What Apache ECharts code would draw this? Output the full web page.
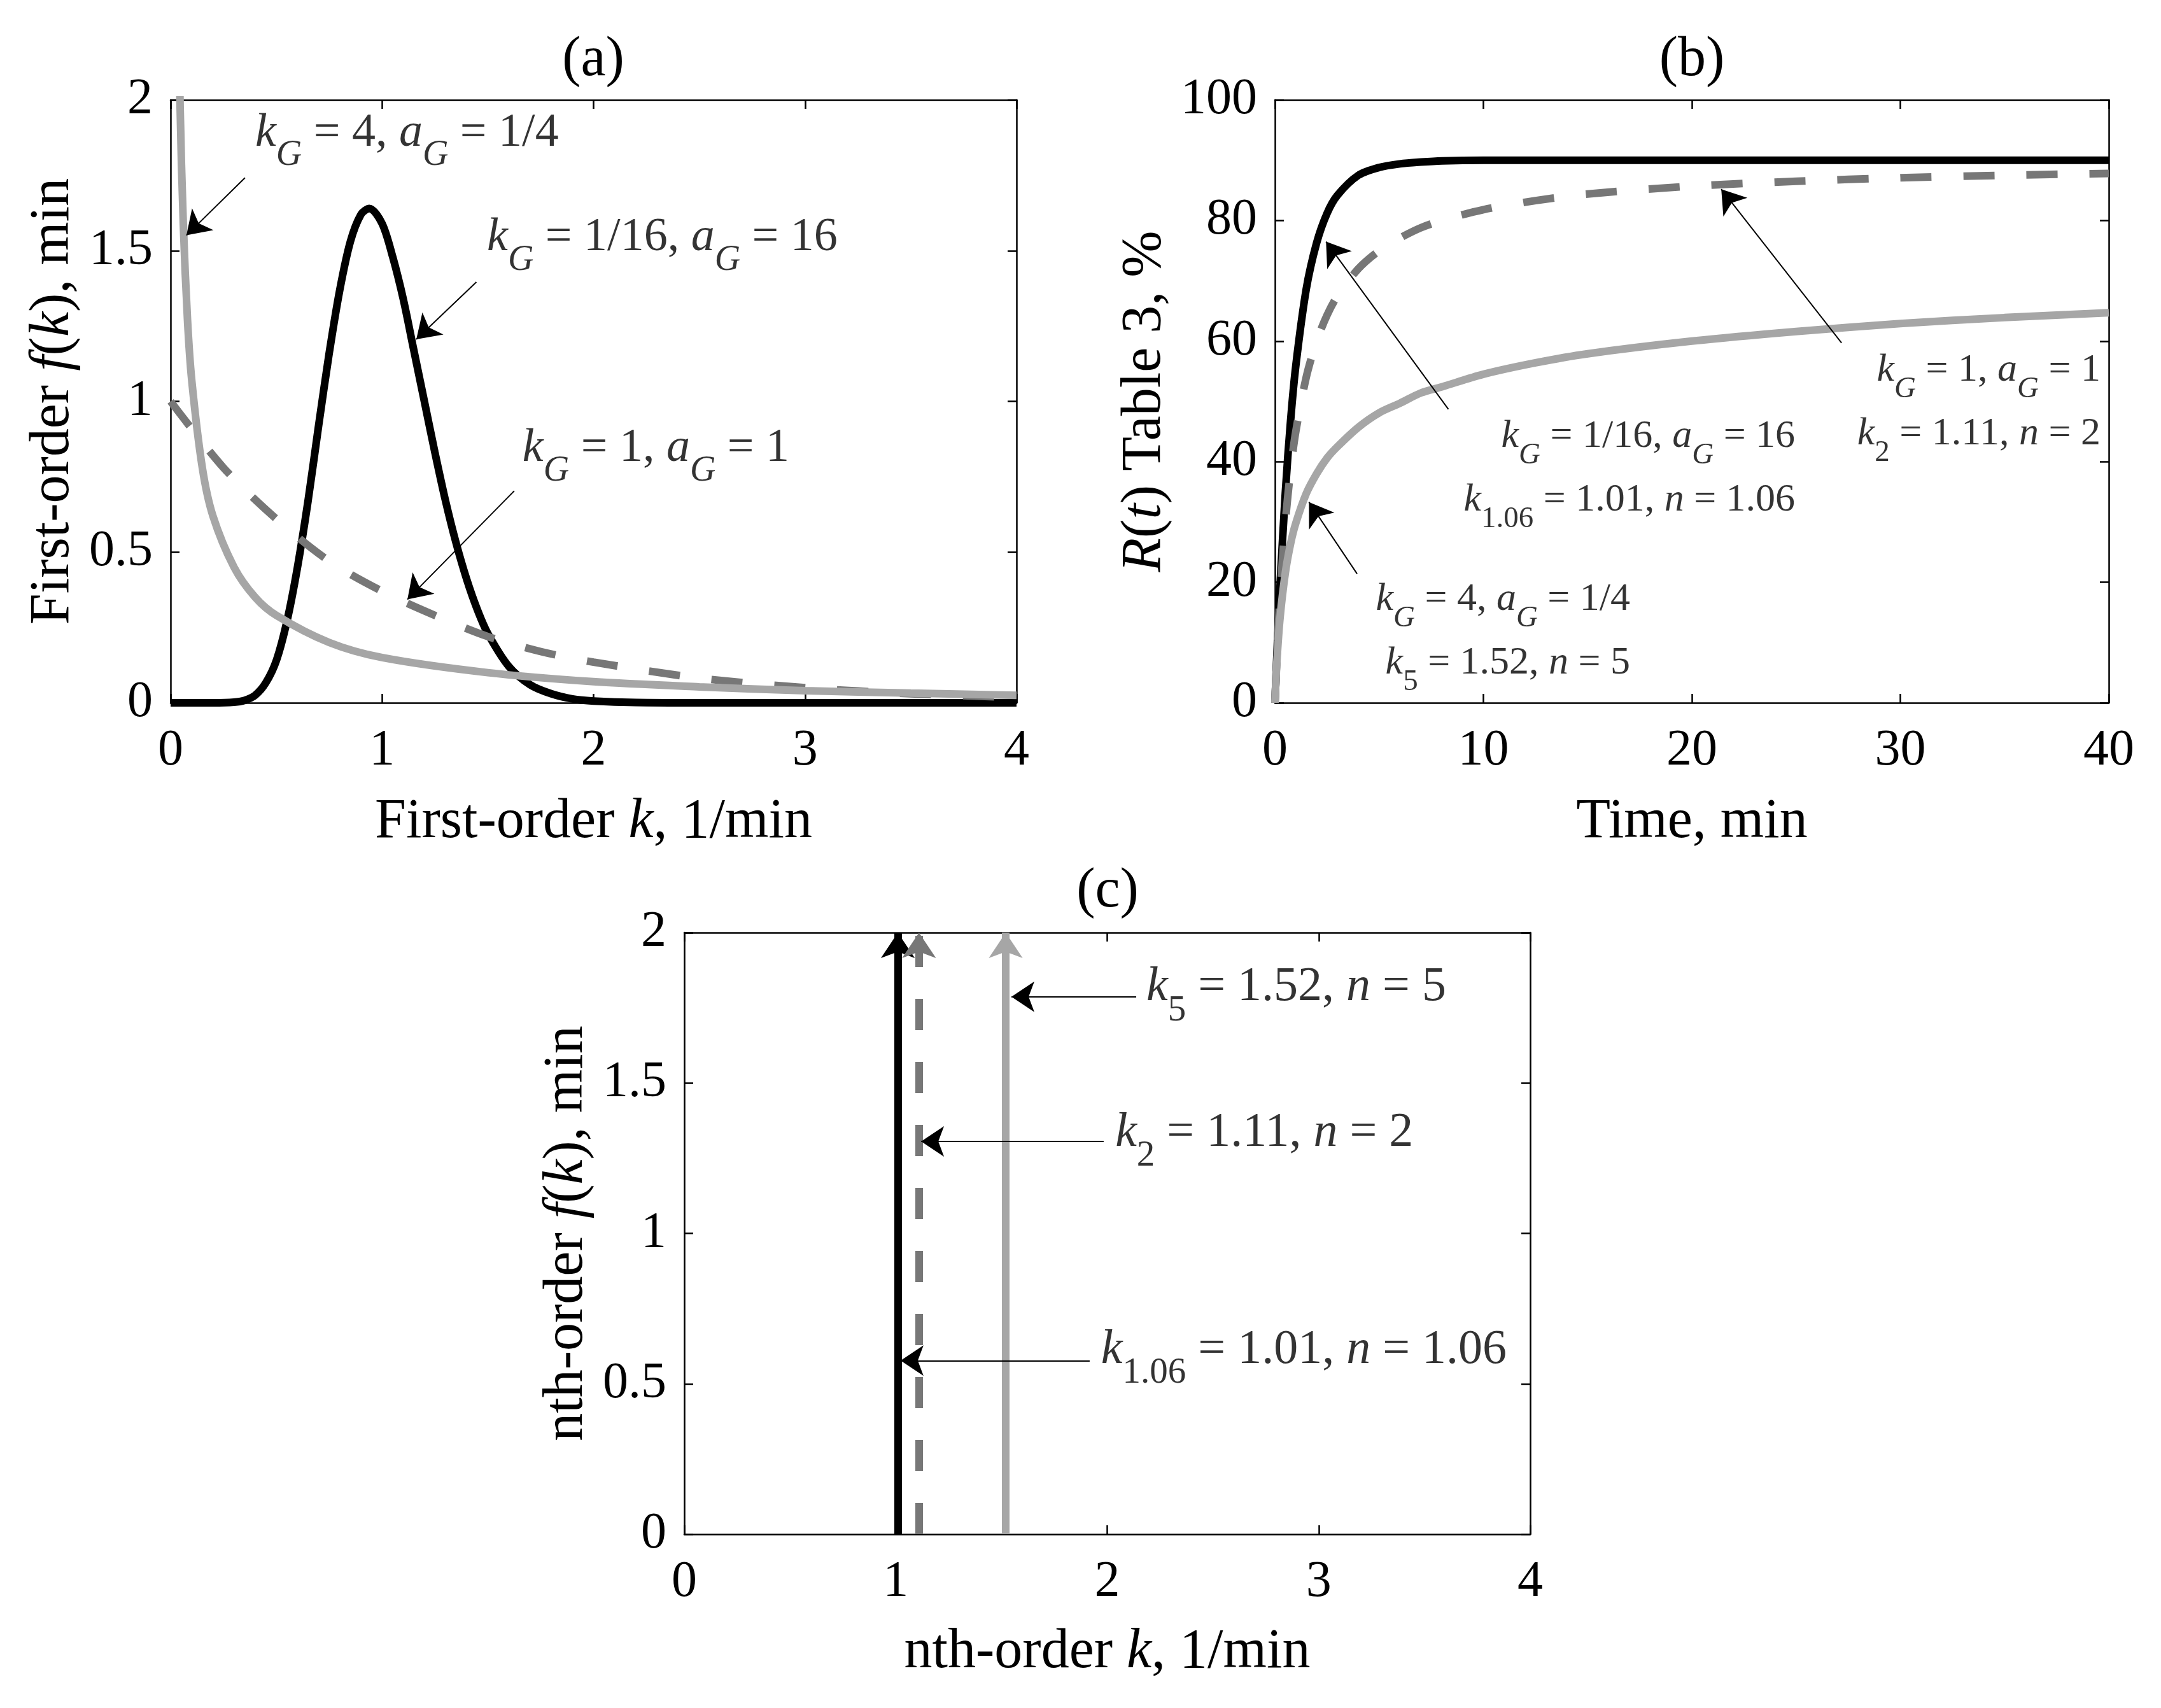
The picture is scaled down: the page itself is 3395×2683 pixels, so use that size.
<!DOCTYPE html>
<html>
<head>
<meta charset="utf-8">
<title>Rate constant distributions</title>
<script src="https://cdn.jsdelivr.net/npm/echarts@6/dist/echarts.min.js"></script>
<style>
  html, body { margin: 0; padding: 0; background: #fff; }
  #main { width: 3395px; height: 2683px; }
</style>
</head>
<body>
<div id="main"></div>
<script>
// (a) first-order distributions f(k)
var kG16 = [0, 0.2, 0.3, 0.35, 0.4, 0.45, 0.5, 0.55, 0.6, 0.65, 0.7, 0.75, 0.8, 0.85, 0.9, 0.94, 1.0, 1.05, 1.1, 1.15,
            1.2, 1.25, 1.3, 1.35, 1.4, 1.45, 1.5, 1.6, 1.7, 1.8, 1.9, 2.0, 2.2, 2.5, 3, 3.5, 4];
var fG16 = [0, 0, 0.002, 0.008, 0.025, 0.066, 0.14, 0.27, 0.45, 0.67, 0.92, 1.16, 1.37, 1.53, 1.62, 1.64, 1.59, 1.48, 1.34, 1.17,
            1.00, 0.83, 0.67, 0.53, 0.41, 0.31, 0.23, 0.12, 0.06, 0.03, 0.013, 0.006, 0.001, 0, 0, 0, 0];
var kG1 = [0, 0.25, 0.5, 0.75, 1, 1.25, 1.5, 1.75, 2, 2.5, 3, 3.5, 4];
var fG1 = [1, 0.78, 0.61, 0.47, 0.37, 0.29, 0.22, 0.17, 0.135, 0.082, 0.05, 0.03, 0.018];
var kG4 = [0.03, 0.045, 0.06, 0.08, 0.1, 0.15, 0.2, 0.3, 0.4, 0.5, 0.75, 1, 1.5, 2, 2.5, 3, 3.5, 4];
var fG4 = [2.70, 1.98, 1.59, 1.27, 1.07, 0.78, 0.62, 0.45, 0.35, 0.29, 0.20, 0.15, 0.10, 0.07, 0.053, 0.04, 0.032, 0.025];

// (b) recovery R(t), %
var tB = [0, 0.1, 0.25, 0.5, 0.75, 1, 1.5, 2, 2.5, 3, 4, 5, 6, 7, 8, 10, 12.5, 15, 20, 25, 30, 35, 40];
var rG16 = [0, 8.5, 19.8, 35.0, 46.8, 55.9, 68.6, 76.3, 81.2, 84.2, 87.5, 88.8, 89.4, 89.7, 89.9, 90, 90, 90, 90, 90, 90, 90, 90];
var rG1 = [0, 8.2, 18.0, 30.0, 38.6, 45.0, 54.0, 60.0, 64.3, 67.5, 72.0, 75.0, 77.1, 78.8, 80.0, 81.8, 83.3, 84.4, 85.7, 86.5, 87.1, 87.5, 87.8];
var rG4 = [0, 7.3, 14.3, 21.6, 26.4, 29.8, 34.7, 38.0, 40.6, 42.5, 45.7, 48.1, 49.7, 51.4, 52.4, 54.5, 56.4, 57.9, 60.0, 61.6, 62.9, 63.9, 64.7];

// (c) nth-order rate constants, drawn as spikes (k1.06, k2, k5)
var nthK = [1.01, 1.11, 1.52];
var nthTop = 2;

// tick values
var kTicks = [0, 1, 2, 3, 4];
var fTicks = [0, 0.5, 1, 1.5, 2];
var tTicks = [0, 10, 20, 30, 40];
var rTicks = [0, 20, 40, 60, 80, 100];

var FONT = '"Liberation Serif", "Times New Roman", serif';
var BLACK = '#000000', DARK = '#777777', LIGHT = '#a6a6a6';
var LW = 12;
var DASH = [49, 50];

function pairs(xs, ys) {
  return xs.map(function (x, i) { return [x, ys[i]]; });
}

// rich styles for labels with subscripts
function rich(F, align, pb) {
  var fs = Math.round(F * 0.75);
  function st(o) {
    var r = { fontFamily: FONT, fontSize: F, color: '#000', verticalAlign: 'top' };
    if (align) r.align = align;
    for (var k in o) r[k] = o[k];
    return r;
  }
  var pad = [Math.round(F * 0.6), 0, pb || 0, 0];
  return {
    r: st({}),
    i: st({ fontStyle: 'italic' }),
    s: st({ fontSize: fs, padding: pad }),
    si: st({ fontSize: fs, fontStyle: 'italic', padding: pad })
  };
}

function axis(grid, ticks, pos, main, name, gap) {
  var a = {
    type: 'value',
    gridIndex: grid,
    position: pos,
    min: ticks[0],
    max: ticks[ticks.length - 1],
    interval: ticks[1] - ticks[0],
    axisLine: { show: true, onZero: false, lineStyle: { color: '#000', width: 2.5 } },
    axisTick: { show: true, inside: true, length: 14, lineStyle: { color: '#000', width: 2.5 } },
    axisLabel: { show: main, margin: (pos === 'bottom' ? 36 : 28), fontFamily: FONT, fontSize: 80, color: '#000' },
    splitLine: { show: false }
  };
  if (main && name) {
    a.name = name;
    a.nameLocation = 'middle';
    a.nameGap = gap;
    a.nameTextStyle = {
      fontFamily: FONT, fontSize: 88, color: '#000',
      rich: { i: { fontFamily: FONT, fontSize: 88, fontStyle: 'italic', color: '#000' } }
    };
  }
  return a;
}

function curve(xi, yi, xs, ys, color, dashed, z) {
  return {
    type: 'line', xAxisIndex: xi, yAxisIndex: yi,
    data: pairs(xs, ys),
    symbol: 'none', smooth: 0.3, clip: true, z: z,
    lineStyle: { color: color, width: LW, type: dashed ? DASH : 'solid', cap: 'butt' }
  };
}

function arrows(xi, yi, list) {
  return {
    type: 'lines', coordinateSystem: 'cartesian2d', xAxisIndex: xi, yAxisIndex: yi,
    z: 6, silent: true,
    symbol: ['none', 'arrow'], symbolSize: 36,
    lineStyle: { color: '#000', width: 2, opacity: 1, curveness: 0 },
    data: list.map(function (c) { return { coords: c }; })
  };
}

function notes(xi, yi, F, align, pb, items) {
  return {
    type: 'scatter', xAxisIndex: xi, yAxisIndex: yi, symbolSize: 0, silent: true, z: 7,
    label: { show: true, position: [0, 0], align: align, verticalAlign: 'top', rich: rich(F, align, pb) },
    data: items.map(function (it) { return { value: it[0], label: { formatter: it[1] } }; })
  };
}

var spikeColors = [BLACK, DARK, LIGHT];
var spikes = nthK.map(function (k, i) {
  return {
    type: 'lines', coordinateSystem: 'cartesian2d', xAxisIndex: 4, yAxisIndex: 4,
    z: 2 + i, silent: true,
    symbol: ['none', 'arrow'], symbolSize: 40,
    lineStyle: { color: spikeColors[i], width: LW, opacity: 1, type: i === 1 ? DASH : 'solid' },
    data: [{ coords: [[k, 0], [k, nthTop]] }]
  };
});

var titleStyle = function (t) {
  return { text: t, fontFamily: FONT, fontSize: 88, fill: '#000', align: 'center', verticalAlign: 'middle', textAlign: 'center', textVerticalAlign: 'middle' };
};

var chart = echarts.init(document.getElementById('main'));
chart.setOption({
  backgroundColor: '#fff',
  animation: false,
  grid: [
    { left: 268, top: 157, width: 1329, height: 947 },
    { left: 2003, top: 157, width: 1310, height: 947 },
    { left: 1075, top: 1465, width: 1329, height: 945 }
  ],
  xAxis: [
    axis(0, kTicks, 'bottom', true, 'First-order {i|k}, 1/min', 144),
    axis(0, kTicks, 'top', false),
    axis(1, tTicks, 'bottom', true, 'Time, min', 144),
    axis(1, tTicks, 'top', false),
    axis(2, kTicks, 'bottom', true, 'nth-order {i|k}, 1/min', 142),
    axis(2, kTicks, 'top', false)
  ],
  yAxis: [
    axis(0, fTicks, 'left', true, 'First-order {i|f}({i|k}), min', 140),
    axis(0, fTicks, 'right', false),
    axis(1, rTicks, 'left', true, '{i|R}({i|t}) Table 3, %', 160),
    axis(1, rTicks, 'right', false),
    axis(2, fTicks, 'left', true, 'nth-order {i|f}({i|k}), min', 140),
    axis(2, fTicks, 'right', false)
  ],
  graphic: [
    { type: 'text', x: 932, y: 95, style: titleStyle('(a)') },
    { type: 'text', x: 2658, y: 95, style: titleStyle('(b)') },
    { type: 'text', x: 1740, y: 1401, style: titleStyle('(c)') }
  ],
  series: [
    // (a)
    curve(0, 0, kG16, fG16, BLACK, false, 2),
    curve(0, 0, kG1, fG1, DARK, true, 3),
    curve(0, 0, kG4, fG4, LIGHT, false, 4),
    arrows(0, 0, [
      [[0.352, 1.742], [0.075, 1.551]],
      [[1.446, 1.396], [1.162, 1.206]],
      [[1.625, 0.703], [1.120, 0.343]]
    ]),
    notes(0, 0, 74, 'left', 0, [
      [[0.40, 1.968], '{i|k}{si|G}{r| = 4, }{i|a}{si|G}{r| = 1/4}'],
      [[1.496, 1.620], '{i|k}{si|G}{r| = 1/16, }{i|a}{si|G}{r| = 16}'],
      [[1.664, 0.921], '{i|k}{si|G}{r| = 1, }{i|a}{si|G}{r| = 1}']
    ]),
    // (b)
    curve(2, 2, tB, rG16, BLACK, false, 2),
    curve(2, 2, tB, rG1, DARK, true, 3),
    curve(2, 2, tB, rG4, LIGHT, false, 4),
    arrows(2, 2, [
      [[8.32, 48.7], [2.45, 76.5]],
      [[27.18, 59.7], [21.41, 85.2]],
      [[3.94, 21.4], [1.63, 33.3]]
    ]),
    notes(2, 2, 62, 'right', 16, [
      [[24.95, 47.4], '{i|k}{si|G}{r| = 1/16, }{i|a}{si|G}{r| = 16}\n{i|k}{s|1.06}{r| = 1.01, }{i|n}{r| = 1.06}'],
      [[39.6, 58.4], '{i|k}{si|G}{r| = 1, }{i|a}{si|G}{r| = 1}\n{i|k}{s|2}{r| = 1.11, }{i|n}{r| = 2}'],
      [[17.04, 20.4], '{i|k}{si|G}{r| = 4, }{i|a}{si|G}{r| = 1/4}\n{i|k}{s|5}{r| = 1.52, }{i|n}{r| = 5}']
    ]),
    // (c)
    spikes[0], spikes[1], spikes[2],
    arrows(4, 4, [
      [[2.137, 1.787], [1.547, 1.787]],
      [[1.983, 1.306], [1.120, 1.306]],
      [[1.917, 0.577], [1.023, 0.577]]
    ]),
    notes(4, 4, 76, 'left', 0, [
      [[2.185, 1.898], '{i|k}{s|5}{r| = 1.52, }{i|n}{r| = 5}'],
      [[2.038, 1.414], '{i|k}{s|2}{r| = 1.11, }{i|n}{r| = 2}'],
      [[1.971, 0.692], '{i|k}{s|1.06}{r| = 1.01, }{i|n}{r| = 1.06}']
    ])
  ]
});
</script>
</body>
</html>
